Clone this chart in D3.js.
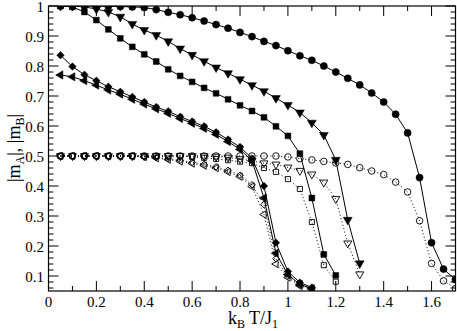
<!DOCTYPE html>
<html><head><meta charset="utf-8">
<script src="https://cdn.jsdelivr.net/npm/d3@7"></script>
<style>body{margin:0;background:#fff}svg{display:block}
text{font-family:"Liberation Serif","DejaVu Serif","Times New Roman",serif}</style>
</head><body>
<script>
// ---- data ----
const xTicks = [0,0.2,0.4,0.6,0.8,1,1.2,1.4,1.6];
const xTickLabels = ["0","0.2","0.4","0.6","0.8","1","1.2","1.4","1.6"];
const yTicks = [0.1,0.2,0.3,0.4,0.5,0.6,0.7,0.8,0.9,1];
const yTickLabels = ["0.1","0.2","0.3","0.4","0.5","0.6","0.7","0.8","0.9","1"];

const T_circle = [0.05,0.1,0.15,0.2,0.25,0.3,0.35,0.4,0.45,0.5,0.55,0.6,0.65,0.7,0.75,0.8,0.85,0.9,0.95,1.0,1.05,1.1,1.15,1.2,1.25,1.3,1.35,1.4,1.45,1.5,1.55,1.6,1.65,1.7];
const mA_circle = [1.0,1.0,1.0,1.0,0.999,0.998,0.997,0.995,0.988,0.979,0.971,0.961,0.95,0.938,0.926,0.912,0.898,0.882,0.868,0.851,0.834,0.819,0.80,0.78,0.759,0.737,0.71,0.68,0.639,0.577,0.428,0.211,0.123,0.088];
const mB_circle = [0.5,0.5,0.5,0.5,0.5,0.5,0.5,0.5,0.5,0.5,0.5,0.5,0.5,0.5,0.5,0.5,0.5,0.5,0.5,0.497,0.491,0.487,0.482,0.477,0.472,0.461,0.45,0.438,0.413,0.38,0.284,0.142,0.084,0.058];

const T_tri = [0.05,0.1,0.15,0.2,0.25,0.3,0.35,0.4,0.45,0.5,0.55,0.6,0.65,0.7,0.75,0.8,0.85,0.9,0.95,1.0,1.05,1.1,1.15,1.2,1.25,1.3];
const mA_tri = [1.0,1.0,0.997,0.99,0.98,0.964,0.94,0.92,0.903,0.882,0.858,0.837,0.816,0.795,0.776,0.756,0.736,0.716,0.693,0.67,0.645,0.611,0.57,0.487,0.287,0.142];
const mB_tri = [0.5,0.5,0.5,0.5,0.5,0.5,0.5,0.5,0.5,0.5,0.5,0.5,0.5,0.498,0.495,0.49,0.484,0.476,0.472,0.462,0.451,0.439,0.412,0.357,0.209,0.106];

const T_sq = [0.05,0.1,0.15,0.2,0.25,0.3,0.35,0.4,0.45,0.5,0.55,0.6,0.65,0.7,0.75,0.8,0.85,0.9,0.95,1.0,1.05,1.1,1.15,1.2];
const mA_sq = [1.0,0.997,0.98,0.953,0.922,0.892,0.864,0.839,0.815,0.789,0.767,0.747,0.727,0.709,0.689,0.669,0.65,0.629,0.599,0.567,0.508,0.36,0.172,0.102];
const mB_sq = [0.5,0.5,0.5,0.5,0.5,0.5,0.5,0.5,0.5,0.5,0.5,0.497,0.494,0.49,0.486,0.481,0.476,0.46,0.447,0.423,0.39,0.28,0.136,0.081];

const T_dia = [0.05,0.1,0.15,0.2,0.25,0.3,0.35,0.4,0.45,0.5,0.55,0.6,0.65,0.7,0.75,0.8,0.85,0.9,0.95,1.0,1.05,1.1];
const mA_dia = [0.836,0.798,0.771,0.751,0.731,0.714,0.697,0.68,0.663,0.649,0.631,0.615,0.599,0.579,0.555,0.53,0.492,0.40,0.211,0.115,0.078,0.062];
const mB_dia = [0.5,0.5,0.5,0.5,0.5,0.5,0.5,0.498,0.495,0.491,0.486,0.479,0.472,0.464,0.452,0.436,0.404,0.338,0.158,0.10,0.07,0.058];
const mA_ltri = [0.77,0.764,0.751,0.736,0.72,0.706,0.689,0.673,0.657,0.642,0.625,0.609,0.592,0.572,0.548,0.522,0.484,0.36,0.176,0.105,0.072,0.058];
const mB_ltri = [0.5,0.5,0.5,0.5,0.5,0.5,0.5,0.497,0.493,0.488,0.482,0.475,0.468,0.46,0.447,0.431,0.398,0.305,0.14,0.095,0.067,0.056];

// ---- chart ----
const W = 457, H = 331;
const svg = d3.select("body").append("svg").attr("width", W).attr("height", H);
const x = d3.scaleLinear().domain([0, 1.7]).range([48.5, 455.5]);
const y = d3.scaleLinear().domain([0.05, 1]).range([291, 6]);
const L = 48.5, R = 455.5, TOP = 6, B = 291;

svg.append("defs").append("clipPath").attr("id","clip")
  .append("rect").attr("x", L).attr("y", TOP).attr("width", R-L).attr("height", B-TOP);

const series = [
  {T:T_circle, v:mA_circle, sym:d3.symbolCircle, size:40, rot:0, filled:true},
  {T:T_tri, v:mA_tri, sym:d3.symbolTriangle, size:34, rot:180, filled:true},
  {T:T_sq, v:mA_sq, sym:d3.symbolSquare, size:34, rot:0, filled:true},
  {T:T_dia, v:mA_dia, sym:d3.symbolSquare, size:28, rot:45, filled:true},
  {T:T_dia, v:mA_ltri, sym:d3.symbolTriangle, size:30, rot:-90, filled:true},
  {T:T_circle, v:mB_circle, sym:d3.symbolCircle, size:34, rot:0, filled:false},
  {T:T_tri, v:mB_tri, sym:d3.symbolTriangle, size:28, rot:180, filled:false},
  {T:T_sq, v:mB_sq, sym:d3.symbolSquare, size:26, rot:0, filled:false},
  {T:T_dia, v:mB_dia, sym:d3.symbolSquare, size:22, rot:45, filled:false},
  {T:T_dia, v:mB_ltri, sym:d3.symbolTriangle, size:24, rot:-90, filled:false}
];

const plot = svg.append("g").attr("clip-path","url(#clip)");
const line = d3.line().x(d => x(d[0])).y(d => y(d[1]));
series.forEach(s => {
  const pts = s.T.map((t,i) => [t, s.v[i]]);
  plot.append("path").datum(pts).attr("d", line)
    .attr("fill","none").attr("stroke","#000").attr("stroke-width",1)
    .attr("stroke-dasharray", s.filled ? null : "1,2.5");
});
series.forEach(s => {
  const pts = s.T.map((t,i) => [t, s.v[i]]);
  const sym = d3.symbol().type(s.sym).size(s.size);
  plot.append("g").selectAll("path").data(pts).join("path")
    .attr("d", sym)
    .attr("transform", d => `translate(${x(d[0])},${y(d[1])}) rotate(${s.rot})`)
    .attr("fill", s.filled ? "#000" : "none")
    .attr("stroke", "#000").attr("stroke-width", s.filled ? 0.5 : 0.9);
});

// frame
svg.append("rect").attr("x", L).attr("y", TOP).attr("width", R-L).attr("height", B-TOP)
  .attr("fill","none").attr("stroke","#000").attr("stroke-width",1.2);

// ticks (inward, all four sides)
const ax = svg.append("g").attr("stroke","#000").attr("stroke-width",1);
const xMinor = d3.range(0.1, 1.7, 0.2);
xTicks.forEach(t => {
  ax.append("line").attr("x1",x(t)).attr("x2",x(t)).attr("y1",B).attr("y2",B-10);
  ax.append("line").attr("x1",x(t)).attr("x2",x(t)).attr("y1",TOP).attr("y2",TOP+10);
});
xMinor.forEach(t => {
  ax.append("line").attr("x1",x(t)).attr("x2",x(t)).attr("y1",B).attr("y2",B-5);
  ax.append("line").attr("x1",x(t)).attr("x2",x(t)).attr("y1",TOP).attr("y2",TOP+5);
});
yTicks.forEach(t => {
  ax.append("line").attr("x1",L).attr("x2",L+10).attr("y1",y(t)).attr("y2",y(t));
  ax.append("line").attr("x1",R).attr("x2",R-10).attr("y1",y(t)).attr("y2",y(t));
});
d3.range(0.06, 1.0, 0.02).forEach(t => {
  if (Math.abs(t*10 - Math.round(t*10)) < 1e-6) return;
  ax.append("line").attr("x1",L).attr("x2",L+5).attr("y1",y(t)).attr("y2",y(t));
  ax.append("line").attr("x1",R).attr("x2",R-5).attr("y1",y(t)).attr("y2",y(t));
});

// tick labels
svg.append("g").selectAll("text").data(xTicks).join("text")
  .attr("x", d => x(d)).attr("y", 307).attr("text-anchor","middle")
  .attr("font-size", 15).text((d,i) => xTickLabels[i]);
svg.append("g").selectAll("text").data(yTicks).join("text")
  .attr("x", 44).attr("y", d => y(d) + 5.5).attr("text-anchor","end")
  .attr("font-size", 15).text((d,i) => yTickLabels[i]);

// axis labels
const xl = svg.append("text").attr("x", 253).attr("y", 324).attr("text-anchor","middle")
  .attr("font-size", 18);
xl.append("tspan").text("k");
xl.append("tspan").attr("font-size", 12).attr("dy", 4).text("B");
xl.append("tspan").attr("dy", -4).text(" T/J");
xl.append("tspan").attr("font-size", 12).attr("dy", 4).text("1");

const yl = svg.append("text").attr("transform","translate(20,148) rotate(-90)")
  .attr("text-anchor","middle").attr("font-size", 18);
yl.append("tspan").text("|m");
yl.append("tspan").attr("font-size", 12).attr("dy", 4).text("A");
yl.append("tspan").attr("dy", -4).text("|, |m");
yl.append("tspan").attr("font-size", 12).attr("dy", 4).text("B");
yl.append("tspan").attr("dy", -4).text("|");
</script>
</body></html>
